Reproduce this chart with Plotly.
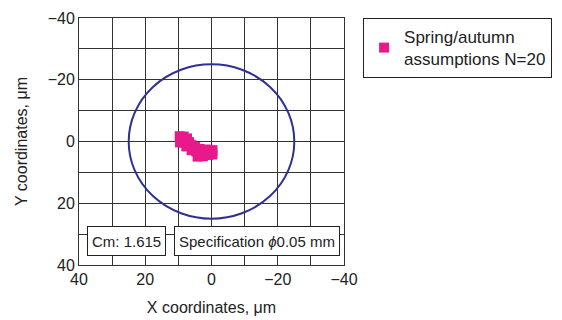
import plotly.graph_objects as go

# Data
x_vals = [9.6, 8.4, 7.4, 9.5, 8.2, 6.8, 7.6, 6.0, 5.0, 6.0, 4.6, 3.6, 2.4, 1.2, -0.3, -0.3, 1.0, 2.6, 4.2, 3.4]
y_vals = [-1.7, -1.6, -1.0, 0.3, 0.4, 0.2, 1.6, 1.2, 1.8, 2.8, 3.2, 2.4, 2.8, 2.6, 2.8, 4.2, 4.4, 4.8, 4.9, 3.8]
series_name = "Spring/autumn<br>assumptions N=20"
tick_vals = [-40, -30, -20, -10, 0, 10, 20, 30, 40]
tick_text = ["\u221240", "", "\u221220", "", "0", "", "20", "", "40"]
spec_radius = 25
cm_label = "Cm: 1.615"
spec_label = "Specification <i>\u03d5</i>0.05 mm"

FONT = "Liberation Sans, Arial, sans-serif"

fig = go.Figure()
fig.add_trace(go.Scatter(
    x=x_vals, y=y_vals, mode="markers", name=series_name,
    marker=dict(symbol="square", size=10, color="#e8198b", line=dict(width=0)),
))

fig.add_shape(type="circle", xref="x", yref="y",
              x0=-spec_radius, x1=spec_radius, y0=-spec_radius, y1=spec_radius,
              line=dict(color="#2e3192", width=2))

axis_common = dict(
    tickvals=tick_vals, ticktext=tick_text,
    showgrid=True, gridcolor="#333333", gridwidth=1,
    showline=True, mirror=True, linecolor="#333333", linewidth=1,
    zeroline=False, ticks="", tickfont=dict(size=16, color="#222"),
    automargin=False,
)

fig.update_xaxes(range=[40, -40], title=dict(text="X coordinates, \u03bcm", font=dict(size=16, color="#222"), standoff=14),
                 **axis_common)
fig.update_yaxes(range=[40, -40], title=dict(text="Y coordinates, \u03bcm", font=dict(size=16, color="#222"), standoff=16),
                 **axis_common)

fig.add_annotation(xref="paper", yref="paper", x=0.03, y=0.097, xanchor="left", yanchor="middle",
                   text=cm_label, showarrow=False, bgcolor="white", bordercolor="#222", borderwidth=1,
                   borderpad=4, height=20, font=dict(size=15, color="#222"))
fig.add_annotation(xref="paper", yref="paper", x=0.357, y=0.097, xanchor="left", yanchor="middle",
                   text=spec_label, showarrow=False, bgcolor="white", bordercolor="#222", borderwidth=1,
                   borderpad=4, height=20, font=dict(size=15, color="#222"))

fig.update_layout(
    width=554, height=312,
    margin=dict(l=71, r=214, t=10, b=55),
    plot_bgcolor="white", paper_bgcolor="white",
    font=dict(family=FONT, size=16, color="#222"),
    showlegend=True,
    legend=dict(x=1.072, y=1, xanchor="left", yanchor="top", bordercolor="#222", borderwidth=1,
                font=dict(size=17, color="#222"), bgcolor="white", itemwidth=30),
)

fig.write_html("out.html")
